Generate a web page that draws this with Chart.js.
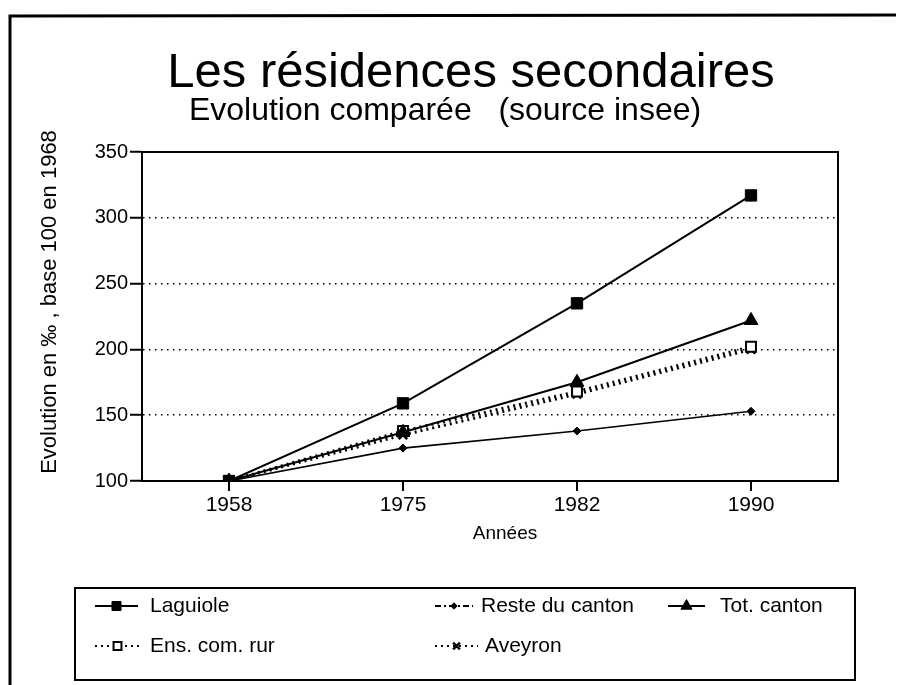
<!DOCTYPE html>
<html>
<head>
<meta charset="utf-8">
<script src="https://cdn.jsdelivr.net/npm/chart.js@4.4.1/dist/chart.umd.min.js"></script>
<style>
  html, body { margin: 0; padding: 0; background: #fff; }
  #wrap { width: 903px; height: 685px; position: relative; }
</style>
</head>
<body>
<div id="wrap"><canvas id="c" width="903" height="685"></canvas></div>
<script>
// ---- data ----
const years = ['1958', '1975', '1982', '1990'];
const laguiole = [100, 159, 235, 317];
const resteCanton = [100, 125, 138, 153];
const totCanton = [100, 137, 175, 222];
const ensComRur = [100, 138, 168, 202];
const aveyron = [100, 135, 166, 200];
const seriesNames = ['Laguiole', 'Reste du canton', 'Tot. canton', 'Ens. com. rur', 'Aveyron'];
const yTicks = [100, 150, 200, 250, 300, 350];
const titleText = 'Les résidences secondaires';
const subtitleText = 'Evolution comparée   (source insee)';
const yTitle = 'Evolution en ‰ , base 100 en 1968';
const xTitle = 'Années';

const FONT = '"Liberation Sans", Arial, Helvetica, sans-serif';

const datasets = [
  { label: seriesNames[0], data: laguiole, borderColor: '#000', backgroundColor: '#000',
    borderWidth: 2, pointStyle: 'rect', pointRadius: 8, pointBackgroundColor: '#000', pointBorderColor: '#000', pointBorderWidth: 1 },
  { label: seriesNames[1], data: resteCanton, borderColor: '#000', backgroundColor: '#000',
    borderWidth: 1.6, pointStyle: 'rectRot', pointRadius: 4, pointBackgroundColor: '#000', pointBorderColor: '#000', pointBorderWidth: 1 },
  { label: seriesNames[2], data: totCanton, borderColor: '#000', backgroundColor: '#000',
    borderWidth: 2, pointStyle: 'triangle', pointRadius: 8, pointBackgroundColor: '#000', pointBorderColor: '#000', pointBorderWidth: 1 },
  { label: seriesNames[3], data: ensComRur, borderColor: '#000', backgroundColor: '#fff',
    borderWidth: 3, borderDash: [2, 4], pointStyle: 'rect', pointRadius: 7, pointBackgroundColor: '#fff', pointBorderColor: '#000', pointBorderWidth: 2 },
  { label: seriesNames[4], data: aveyron, borderColor: '#000', backgroundColor: '#000',
    borderWidth: 3, borderDash: [2, 4], pointStyle: 'crossRot', pointRadius: 6, pointBackgroundColor: '#000', pointBorderColor: '#000', pointBorderWidth: 2.5 }
];

// legend item layout (positions only)
const legendLayout = [
  { x1: 95, x2: 138, tx: 150, y: 606, dash: [] },
  { x1: 435, x2: 473, tx: 481, y: 606, dash: [6, 3, 2, 3] },
  { x1: 668, x2: 705, tx: 720, y: 606, dash: [] },
  { x1: 95, x2: 140, tx: 150, y: 646, dash: [2, 4] },
  { x1: 435, x2: 478, tx: 485, y: 646, dash: [2, 4] }
];

const decorPlugin = {
  id: 'decor',
  beforeDraw(chart) {
    const ctx = chart.ctx;
    ctx.save();
    ctx.fillStyle = '#fff';
    ctx.fillRect(0, 0, chart.width, chart.height);
    // outer frame (top + left)
    ctx.strokeStyle = '#000';
    ctx.lineWidth = 3;
    ctx.beginPath();
    ctx.moveTo(10, 685);
    ctx.lineTo(10, 16);
    ctx.lineTo(896, 15);
    ctx.stroke();
    // titles
    ctx.fillStyle = '#000';
    ctx.textAlign = 'center';
    ctx.textBaseline = 'alphabetic';
    ctx.font = '49px ' + FONT;
    ctx.fillText(titleText, 471, 87);
    ctx.font = '32px ' + FONT;
    ctx.fillText(subtitleText, 445, 120);
    // axis titles
    ctx.font = '19px ' + FONT;
    ctx.textBaseline = 'middle';
    ctx.fillText(xTitle, 505, 534);
    ctx.save();
    ctx.translate(50, 302);
    ctx.rotate(-Math.PI / 2);
    ctx.font = '22px ' + FONT;
    ctx.fillText(yTitle, 0, 0);
    ctx.restore();
    ctx.restore();
  },
  beforeDatasetsDraw(chart) {
    const a = chart.chartArea;
    const ctx = chart.ctx;
    ctx.save();
    ctx.strokeStyle = '#000';
    ctx.lineWidth = 2;
    ctx.strokeRect(a.left, a.top, a.right - a.left, a.bottom - a.top);
    ctx.restore();
  },
  afterDraw(chart) {
    const ctx = chart.ctx;
    ctx.save();
    // legend box
    ctx.strokeStyle = '#000';
    ctx.lineWidth = 2;
    ctx.strokeRect(75, 588, 780, 92);
    ctx.font = '21px ' + FONT;
    ctx.textAlign = 'left';
    ctx.textBaseline = 'middle';
    chart.data.datasets.forEach((ds, i) => {
      const L = legendLayout[i];
      ctx.save();
      ctx.strokeStyle = ds.borderColor;
      ctx.lineWidth = 2;
      ctx.setLineDash(L.dash);
      ctx.beginPath();
      ctx.moveTo(L.x1, L.y);
      ctx.lineTo(L.x2, L.y);
      ctx.stroke();
      ctx.setLineDash([]);
      ctx.fillStyle = ds.pointBackgroundColor;
      ctx.strokeStyle = ds.pointBorderColor;
      ctx.lineWidth = ds.pointBorderWidth;
      Chart.helpers.drawPoint(ctx, {
        pointStyle: ds.pointStyle,
        radius: ds.pointRadius * 0.8,
        rotation: 0,
        borderWidth: ds.pointBorderWidth
      }, (L.x1 + L.x2) / 2, L.y);
      ctx.restore();
      ctx.fillStyle = '#000';
      ctx.fillText(ds.label, L.tx, L.y);
    });
    ctx.restore();
  }
};

new Chart(document.getElementById('c'), {
  type: 'line',
  data: { labels: years, datasets: datasets },
  options: {
    responsive: false,
    animation: false,
    devicePixelRatio: 1,
    layout: { padding: { top: 152, left: 30, right: 65, bottom: 137 } },
    plugins: { legend: { display: false }, tooltip: { enabled: false }, title: { display: false } },
    elements: { line: { tension: 0, fill: false } },
    scales: {
      x: {
        type: 'category',
        offset: true,
        afterFit(s) { s.height = 67; },
        grid: { drawOnChartArea: false, drawTicks: true, tickLength: 10, color: '#000', lineWidth: 2 },
        border: { display: true, color: '#000', width: 2 },
        ticks: { color: '#000', font: { family: FONT, size: 21 }, padding: 2, maxRotation: 0 },
        title: { display: false }
      },
      y: {
        min: 100, max: 350,
        afterFit(s) { s.width = 112; },
        afterBuildTicks(s) { s.ticks = yTicks.map(v => ({ value: v })); },
        grid: { color: '#000', lineWidth: 1.5, tickLength: 12, tickBorderDash: [], tickWidth: 2, tickColor: '#000' },
        border: { display: true, color: '#000', width: 2, dash: [1.5, 4.5] },
        ticks: { color: '#000', font: { family: FONT, size: 20 }, padding: 2 },
        title: { display: false }
      }
    }
  },
  plugins: [decorPlugin]
});
</script>
</body>
</html>
